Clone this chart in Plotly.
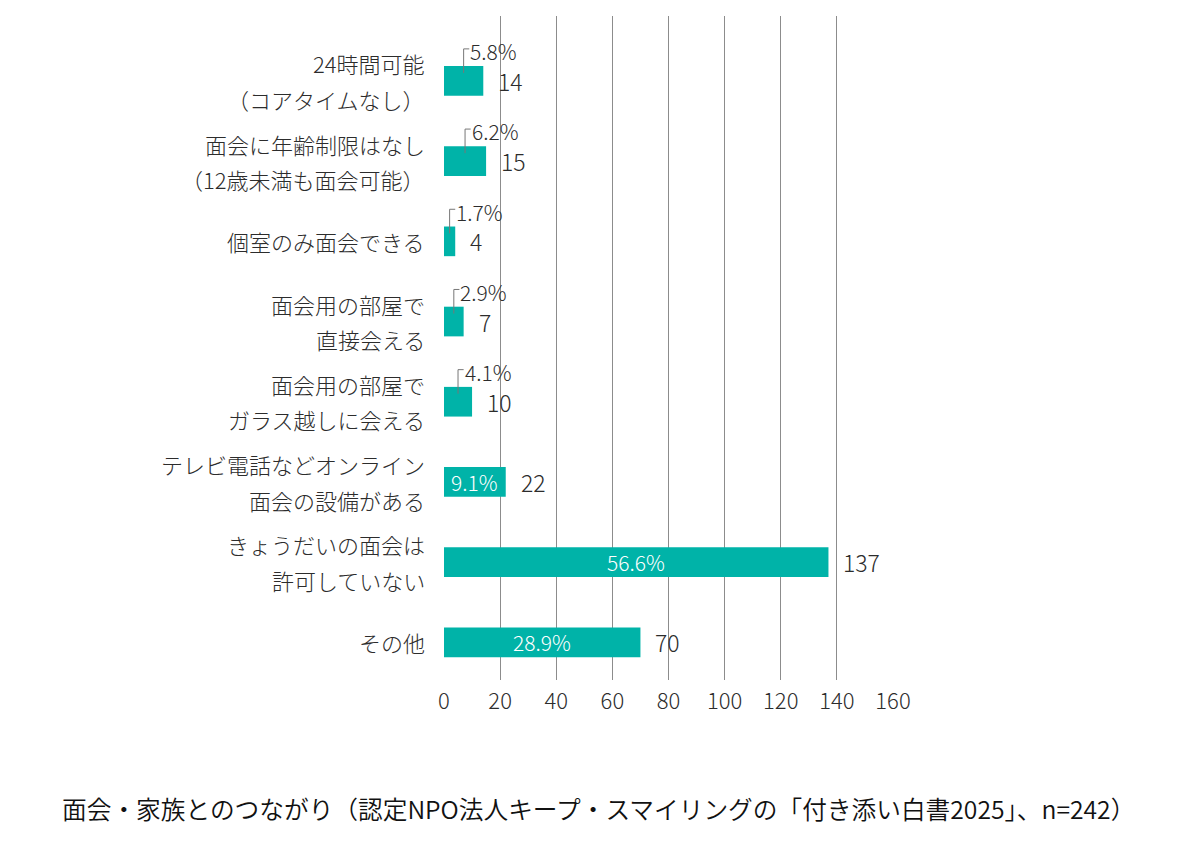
import plotly.graph_objects as go

# 面会・家族とのつながり (n=242)
labels = [
    ["24時間可能", "（コアタイムなし）"],
    ["面会に年齢制限はなし", "（12歳未満も面会可能）"],
    ["個室のみ面会できる"],
    ["面会用の部屋で", "直接会える"],
    ["面会用の部屋で", "ガラス越しに会える"],
    ["テレビ電話などオンライン", "面会の設備がある"],
    ["きょうだいの面会は", "許可していない"],
    ["その他"],
]
counts = [14, 15, 4, 7, 10, 22, 137, 70]
percents = [5.8, 6.2, 1.7, 2.9, 4.1, 9.1, 56.6, 28.9]
x_ticks = [0, 20, 40, 60, 80, 100, 120, 140, 160]
caption = "面会・家族とのつながり（認定NPO法人キープ・スマイリングの「付き添い白書2025」、n=242）"

TEAL = "#00b3a8"
TEXT = "#2c2c2c"
GRID = "#8c8c8c"
FONT = "Noto Sans CJK JP Light, Noto Sans CJK JP, sans-serif"

rows = list(range(len(counts)))

fig = go.Figure()
fig.add_trace(go.Bar(
    x=counts, y=rows, orientation="h", width=0.37,
    marker=dict(color=TEAL, line=dict(width=0)),
    hoverinfo="skip",
))

# leader lines for the small bars (label sits above the bar)
for i, (c, p) in enumerate(zip(counts, percents)):
    if c >= 20:
        continue
    fig.add_trace(go.Scatter(
        x=[c / 2, c / 2, c / 2 + 2], y=[i - 0.1, i - 0.4, i - 0.4],
        mode="lines", line=dict(color="#777777", width=1),
        hoverinfo="skip", showlegend=False,
    ))

annotations = []
for i, (c, p) in enumerate(zip(counts, percents)):
    # percentage
    if c >= 20:
        annotations.append(dict(
            x=c / 2, y=i, xref="x", yref="y", text=f"{p}%", showarrow=False,
            xanchor="center", yanchor="middle",
            font=dict(family=FONT, size=21, color="white"),
        ))
    else:
        annotations.append(dict(
            x=c / 2 + 2, y=i - 0.37, xref="x", yref="y", text=f"{p}%", showarrow=False,
            xanchor="left", yanchor="middle", xshift=-1,
            font=dict(family=FONT, size=21, color=TEXT),
        ))
    # count
    annotations.append(dict(
        x=c, y=i, xref="x", yref="y", text=str(c), showarrow=False,
        xanchor="left", yanchor="middle", xshift=13,
        font=dict(family=FONT, size=23, color=TEXT),
    ))
    # category label, one annotation per line
    lines = labels[i]
    for k, line in enumerate(lines):
        off = (k - (len(lines) - 1) / 2) * 0.44
        annotations.append(dict(
            x=0, y=i + off, xref="x", yref="y", text=line, showarrow=False,
            xanchor="right", yanchor="middle", xshift=-17,
            font=dict(family=FONT, size=22, color=TEXT),
        ))

annotations.append(dict(
    x=0.343, y=-0.1925, xref="paper", yref="paper", text=caption, showarrow=False,
    xanchor="center", yanchor="middle",
    font=dict(family="Noto Sans CJK JP DemiLight, Noto Sans CJK JP, sans-serif",
              size=24.7, color="#111111"),
))

fig.update_layout(
    width=1200, height=842,
    margin=dict(l=436, r=315, t=8, b=170),
    paper_bgcolor="white", plot_bgcolor="white",
    showlegend=False,
    annotations=annotations,
    xaxis=dict(
        range=[0, 160], tickvals=x_ticks, ticktext=[str(v) for v in x_ticks],
        showgrid=True, gridcolor=GRID, gridwidth=1.3, zeroline=False,
        showline=False, ticks="", ticklabelstandoff=6,
        tickfont=dict(family=FONT, size=22, color=TEXT),
        fixedrange=True,
    ),
    yaxis=dict(
        range=[7.47, -0.81], showticklabels=False, showgrid=False,
        zeroline=False, showline=False, ticks="", fixedrange=True,
    ),
)

fig.write_html("out.html")
